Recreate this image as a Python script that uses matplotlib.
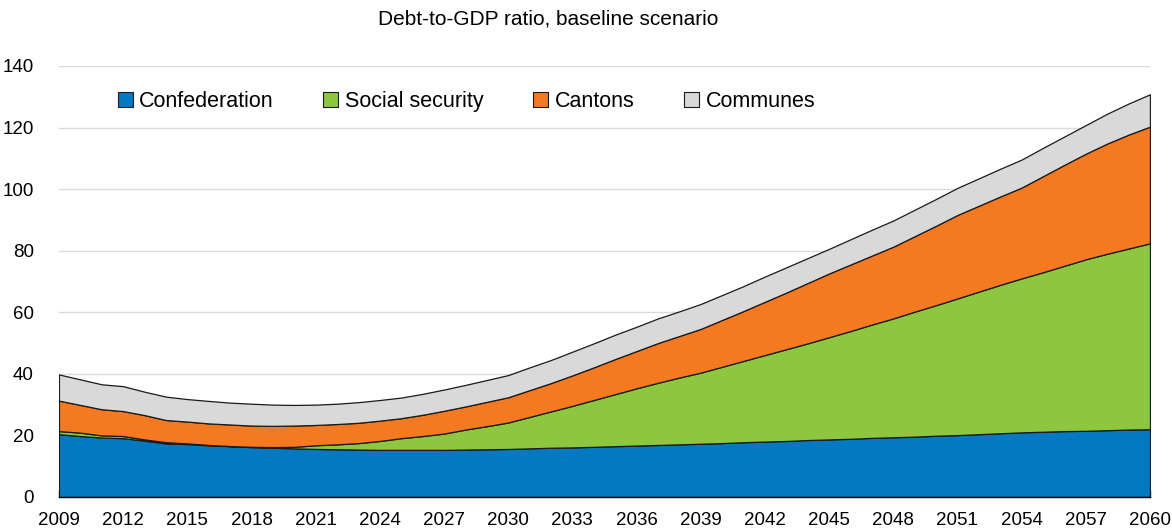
import matplotlib
matplotlib.use("Agg")
import matplotlib.pyplot as plt
import numpy as np
from matplotlib.patches import Patch
from matplotlib.ticker import MultipleLocator

plt.rcParams['font.family'] = ['Liberation Sans', 'DejaVu Sans']

years = list(range(2009, 2061))

confederation = [20.4, 19.8, 19.3, 19.1, 18.3, 17.4, 17.2, 16.8, 16.5, 16.2,
                 16.0, 15.8, 15.6, 15.5, 15.4, 15.3, 15.3, 15.3, 15.3, 15.4,
                 15.5, 15.6, 15.8, 16.0, 16.1, 16.3, 16.5, 16.7, 16.9, 17.1,
                 17.3, 17.5, 17.8, 18.0, 18.2, 18.5, 18.7, 18.9, 19.2, 19.4,
                 19.6, 19.9, 20.1, 20.4, 20.7, 21.0, 21.2, 21.4, 21.5, 21.7,
                 21.9, 22.0]

social_security = [1.0, 1.1, 0.7, 0.7, 0.4, 0.4, 0.2, 0.1, 0.05, 0.1,
                   0.2, 0.5, 1.2, 1.6, 2.1, 2.9, 3.8, 4.5, 5.3, 6.5,
                   7.5, 8.6, 10.2, 11.8, 13.5, 15.2, 16.9, 18.6, 20.2, 21.7,
                   23.1, 24.8, 26.4, 28.1, 29.8, 31.4, 33.2, 35.0, 36.8, 38.6,
                   40.6, 42.4, 44.4, 46.3, 48.2, 50.0, 51.8, 53.7, 55.7, 57.3,
                   58.8, 60.4]

cantons = [9.9, 9.0, 8.5, 8.1, 7.9, 7.2, 7.1, 7.0, 7.0, 6.9,
           6.9, 6.9, 6.6, 6.6, 6.6, 6.6, 6.5, 6.9, 7.4, 7.5,
           7.9, 8.2, 8.7, 9.2, 9.9, 10.6, 11.4, 12.1, 12.9, 13.5,
           14.2, 15.2, 16.2, 17.3, 18.4, 19.6, 20.7, 21.6, 22.4, 23.3,
           24.5, 25.8, 27.1, 27.9, 28.7, 29.5, 31.2, 32.8, 34.3, 35.8,
           37.0, 37.9]

communes = [8.5, 8.3, 8.1, 8.1, 7.6, 7.6, 7.3, 7.3, 7.1, 7.1,
            6.9, 6.7, 6.6, 6.6, 6.7, 6.7, 6.7, 6.8, 6.9, 7.0,
            7.1, 7.2, 7.4, 7.5, 7.7, 7.8, 7.9, 7.9, 8.0, 8.0,
            8.1, 8.1, 8.1, 8.2, 8.2, 8.1, 8.0, 8.2, 8.4, 8.5,
            8.6, 8.7, 8.8, 8.9, 9.0, 9.1, 9.2, 9.2, 9.3, 9.7,
            10.1, 10.5]

labels = ["Confederation", "Social security", "Cantons", "Communes"]
colors = ["#0479C1", "#8DC63F", "#F47920", "#D9D9D9"]

fig = plt.figure(figsize=(11.72, 5.32), dpi=100)
ax = fig.add_axes([0.0503, 0.0658, 0.9309, 0.8102])

ax.stackplot(years, confederation, social_security, cantons, communes,
             colors=colors, edgecolor="#1a1a1a", linewidth=0.9, zorder=2)

ax.set_xlim(2009, 2060)
ax.set_ylim(0, 140)
ax.yaxis.set_major_locator(MultipleLocator(20))
ax.xaxis.set_minor_locator(MultipleLocator(1))
ax.set_xticks(list(range(2009, 2061, 3)))

ax.grid(axis="y", color="#DADADA", linewidth=1.0, zorder=0)
ax.set_axisbelow(True)
for s in ["left", "right", "top"]:
    ax.spines[s].set_visible(False)
ax.spines["bottom"].set_color("black")
ax.spines["bottom"].set_linewidth(1.0)
ax.spines["bottom"].set_zorder(3)

ax.tick_params(axis="x", which="both", direction="in", length=5, width=1,
               labelsize=13.5, pad=11, colors="black")
ax.tick_params(axis="y", length=0, labelsize=13.5, pad=18)

fig.text(0.4675, 0.965, "Debt-to-GDP ratio, baseline scenario",
         ha="center", va="center", fontsize=15)

handles = [Patch(facecolor=c, edgecolor="#1a1a1a", linewidth=0.8) for c in colors]
ax.legend(handles, labels, loc="upper left", bbox_to_anchor=(0.046, 0.962),
          ncol=4, frameon=False, fontsize=15.5, handlelength=0.7,
          handleheight=0.7, handletextpad=0.3, columnspacing=2.3,
          borderaxespad=0)

fig.savefig("out.png", dpi=100)
